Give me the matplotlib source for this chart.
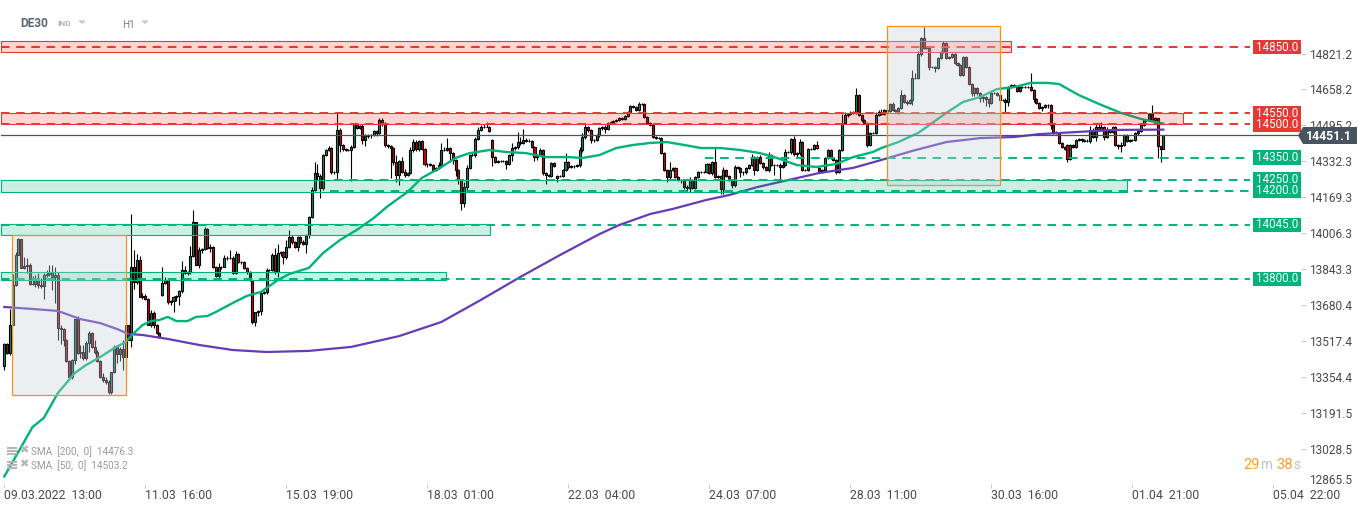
import numpy as np
import matplotlib
matplotlib.use("Agg")
import matplotlib.pyplot as plt
from matplotlib.patches import Polygon, Rectangle

# DE30 H1, prices
closes = [
    13505,13465,13591,13773,13908,13981,13850,13859,13863,13777,
    13777,13795,13773,13768,13818,13822,13831,13809,13818,13578,
    13573,13523,13428,13356,13433,13618,13465,13469,13442,13510,
    13555,13492,13469,13428,13356,13342,13333,13288,13378,13492,
    13460,13483,13446,13591,13523,13854,13786,13886,13718,13723,
    13709,13591,13646,13591,13555,13537,13782,13795,13695,13700,
    13718,13723,13745,13840,13827,13831,13904,14058,13863,13931,
    13936,14026,13940,13945,13854,13813,13854,13854,13895,13895,
    13895,13827,13913,13877,13877,13850,13831,13795,13605,13650,
    13655,13736,13741,13840,13840,13908,13831,13917,13922,13899,
    13945,13990,13967,13945,13990,13967,13958,14000,14081,14203,
    14280,14266,14212,14361,14384,14393,14284,14284,14475,14407,
    14389,14384,14384,14398,14502,14484,14493,14429,14447,14452,
    14452,14470,14461,14520,14502,14407,14402,14393,14330,14271,
    14334,14284,14271,14280,14384,14420,14389,14425,14389,14321,
    14321,14316,14293,14303,14316,14384,14384,14393,14370,14339,
    14293,14248,14144,14216,14303,14361,14361,14434,14475,14488,
    14488,14488,14470,14352,14330,14334,14334,14334,14321,14361,
    14393,14398,14420,14416,14429,14425,14425,14398,14352,14361,
    14384,14280,14271,14266,14325,14312,14266,14266,14293,14330,
    14307,14312,14312,14316,14384,14443,14488,14475,14429,14429,
    14452,14484,14488,14479,14506,14511,14515,14520,14529,14525,
    14538,14556,14583,14579,14565,14592,14592,14534,14506,14497,
    14443,14438,14438,14370,14293,14262,14293,14303,14262,14248,
    14248,14216,14212,14248,14212,14262,14284,14284,14284,14321,
    14280,14330,14262,14266,14207,14293,14266,14248,14225,14307,
    14303,14284,14284,14303,14316,14352,14293,14352,14325,14307,
    14293,14361,14316,14316,14316,14307,14316,14375,14375,14434,
    14366,14370,14420,14293,14293,14389,14389,14407,14393,14284,
    14293,14348,14384,14348,14339,14284,14384,14506,14543,14547,
    14552,14552,14633,14543,14520,14506,14407,14461,14461,14543,
    14556,14547,14565,14561,14592,14565,14561,14574,14633,14601,
    14597,14611,14710,14710,14819,14891,14846,14846,14760,14760,
    14756,14801,14828,14869,14801,14805,14819,14778,14769,14724,
    14805,14760,14683,14642,14665,14642,14620,14624,14615,14597,
    14642,14642,14633,14611,14611,14602,14669,14678,14674,14651,
    14669,14669,14669,14669,14656,14615,14597,14574,14579,14588,
    14588,14497,14466,14461,14416,14398,14389,14343,14407,14398,
    14429,14434,14429,14425,14425,14475,14443,14488,14475,14488,
    14443,14475,14466,14488,14407,14402,14407,14452,14425,14429,
    14429,14461,14470,14497,14520,14520,14547,14520,14529,14402,
    14389,14451.1,
]
# wick lengths above / below the body, in points
wick_up = [
    5,5,75,50,15,5,0,40,30,10,
    35,25,30,30,10,20,30,30,35,15,
    15,5,5,5,5,0,15,30,30,10,
    10,5,30,10,5,20,15,10,0,10,
    10,10,40,60,0,240,75,25,20,15,
    10,5,15,10,5,5,70,15,5,5,
    5,5,5,40,20,5,45,55,0,15,
    5,10,5,15,5,5,20,5,15,10,
    35,10,15,5,5,5,5,5,0,0,
    5,10,5,10,5,10,30,40,5,5,
    30,30,10,5,5,5,10,5,5,15,
    50,40,10,5,5,10,5,5,75,10,
    5,5,5,10,5,5,5,10,10,5,
    5,5,5,10,10,10,5,5,5,30,
    5,20,15,5,15,15,10,5,5,5,
    5,5,5,5,15,30,15,45,5,5,
    5,5,0,25,15,5,10,10,15,10,
    15,25,5,5,5,5,5,5,5,5,
    25,5,45,25,50,10,10,5,5,5,
    10,5,5,5,5,5,5,5,5,40,
    5,5,5,5,15,20,15,5,5,5,
    5,5,5,10,5,5,5,5,5,5,
    5,5,5,5,5,10,5,5,5,5,
    5,5,5,5,5,5,35,5,5,5,
    5,5,10,15,5,5,5,5,5,5,
    5,5,65,5,5,15,5,5,5,10,
    5,5,5,5,5,15,5,5,10,5,
    5,15,5,5,5,10,20,15,5,5,
    15,5,15,5,5,5,5,5,20,5,
    5,5,5,5,5,5,5,40,15,5,
    10,10,30,5,5,5,5,5,5,15,
    10,15,5,5,5,10,5,5,25,5,
    10,5,35,25,15,5,50,5,5,5,
    5,5,5,10,5,5,5,5,5,5,
    5,5,5,5,5,5,5,5,5,5,
    5,5,5,5,5,10,5,5,5,5,
    5,5,5,5,65,5,5,5,5,5,
    5,5,5,5,5,5,5,5,5,5,
    5,5,5,5,10,20,10,15,15,25,
    5,15,5,5,5,5,15,5,5,5,
    5,5,5,10,5,5,5,40,5,0,
    0,0,
]
wick_dn = [
    20,5,10,0,5,0,0,5,30,5,
    5,15,15,10,60,10,10,60,120,55,
    70,25,5,5,10,20,5,25,10,10,
    40,5,10,5,5,10,10,10,10,5,
    40,30,60,75,0,30,30,10,0,10,
    5,0,10,15,5,5,5,5,10,15,
    50,20,40,10,5,10,10,5,0,15,
    15,5,5,20,5,5,20,10,0,10,
    5,5,5,5,10,5,10,5,10,20,
    20,20,5,10,5,5,10,20,15,30,
    10,5,10,5,20,10,5,40,15,5,
    5,20,45,10,5,5,10,10,35,30,
    10,5,5,140,5,5,5,20,25,10,
    15,5,15,5,10,10,10,135,15,30,
    45,5,10,5,5,10,10,10,5,10,
    15,5,10,5,5,5,5,5,40,20,
    25,20,30,20,20,5,5,10,5,5,
    5,0,5,40,5,5,5,5,25,5,
    25,10,10,10,5,5,5,5,20,15,
    5,10,40,5,5,5,20,5,5,5,
    10,5,10,5,10,10,10,10,15,10,
    5,10,10,20,5,5,5,5,5,5,
    5,5,5,5,5,5,5,5,5,5,
    5,5,5,5,5,25,10,5,5,5,
    15,10,15,20,5,5,5,5,5,5,
    5,10,5,5,20,20,5,5,15,10,
    5,20,15,10,5,5,20,5,5,10,
    5,10,5,45,5,60,5,5,5,10,
    10,15,10,5,5,5,5,5,5,5,
    5,5,5,5,5,10,5,5,5,10,
    5,5,5,5,10,5,10,5,5,5,
    5,5,5,15,5,5,5,15,5,5,
    10,5,25,5,5,10,5,5,15,5,
    20,5,5,5,5,5,5,5,5,5,
    5,5,5,15,15,10,20,20,30,20,
    5,5,5,5,5,45,20,5,5,5,
    5,5,5,5,5,15,5,5,15,5,
    15,20,10,5,5,5,5,15,5,5,
    5,5,10,5,5,10,5,20,5,5,
    15,5,5,5,5,15,25,5,5,5,
    5,5,10,5,5,5,5,5,5,55,
    60,0,
]
first_open = 13406
gap_opens = {56: 13727, 173: 14429, 196: 14257, 289: 14302, 377: 14407}

sma50_bars = [0,6,10,14,19,25,29,34,39,43,46,49,52,55,58,61,65,68,72,75,81,86,91,97,101,108,113,
              119,125,131,136,143,148,155,160,165,172,178,185,192,200,205,211,217,223,229,235,241,
              247,254,261,268,274,281,288,295,301,308,311,317,324,328,334,340,346,352,358,364,370,
              374,381,389,396,403,411]
sma50_vals = [12905,13039,13129,13170,13283,13374,13410,13446,13487,13514,13555,13591,13609,13614,
              13628,13609,13609,13628,13632,13650,13691,13723,13741,13795,13822,13850,13917,
              13976,14022,14076,14130,14194,14257,14307,14348,14370,14384,14375,14370,14352,14352,
              14348,14361,14393,14407,14416,14420,14407,14393,14393,14384,14370,14348,14316,14307,
              14321,14352,14375,14393,14420,14461,14497,14552,14602,14624,14660,14669,14688,14688,
              14683,14633,14588,14552,14525,14503.2]
sma200_bars = [0,10,19,27,34,40,44,49,58,69,81,93,108,123,140,155,169,183,197,211,218,229,237,249,
               257,267,278,289,301,311,322,334,346,358,367,381,393,411]
sma200_vals = [13673,13664,13655,13618,13600,13573,13551,13546,13528,13501,13478,13469,13474,13492,
               13541,13605,13705,13809,13908,14003,14044,14094,14117,14158,14180,14216,14248,14280,
               14303,14339,14380,14420,14438,14443,14456,14466,14475,14476.3]

# support / resistance levels and zones
red_levels = [14850.0, 14550.0, 14500.0]
green_levels = [14350.0, 14250.0, 14200.0, 14045.0, 13800.0]
level_start = {14850.0: -1.2, 14550.0: -1.2, 14500.0: -1.2, 14350.0: 248.4,
               14250.0: 117, 14200.0: 115.5, 14045.0: -1.2, 13800.0: -1.2}
red_zones = [(14826, 14880, 357), (14504, 14550, 418)]
green_zones = [(14196, 14250, 398), (13999, 14049, 172.2), (13795, 13831, 156.6)]
boxes = [(2.9, 43, 13272, 14000), (313, 353, 14226, 14946)]
last_price = 14451.1

ytick_vals = [14821.2,14658.2,14495.2,14332.3,14169.3,14006.3,13843.3,13680.4,13517.4,13354.4,13191.5,13028.5]
xtick_bars = [0,50,100,150,200,250,300,350,400,450]
xtick_labels = ["09.03.2022  13:00","11.03  16:00","15.03  19:00","18.03  01:00","22.03  04:00",
                "24.03  07:00","28.03  11:00","30.03  16:00","01.04  21:00","05.04  22:00"]

RED = "#e53935"
GREEN = "#00b37a"
PURPLE = "#673ab7"
GREY_TXT = "#4a4a4a"

plt.rcParams["font.family"] = ["Roboto", "DejaVu Sans"]
W, H = 1368, 509

def fx(x):
    return x / W

def fy(y):
    return 1 - y / H

fig = plt.figure(figsize=(W / 100, H / 100), dpi=100)
ax = fig.add_axes([0, fy(484), 1301 / W, 484 / H])
ax.set_xlim(-1.525, 459.8)
ax.set_ylim(12871, 15063.6)
for s in ax.spines.values():
    s.set_visible(False)

# candles
closes = np.array(closes, dtype=float)
opens = np.r_[first_open, closes[:-1]]
for k, v in gap_opens.items():
    opens[k] = v
up = closes >= opens
tops = np.maximum(opens, closes)
bots = np.minimum(opens, closes)
xs = np.arange(len(closes))
ax.vlines(xs, bots - np.array(wick_dn), tops + np.array(wick_up), color="black", lw=0.8, zorder=2)
ax.bar(xs, tops - bots, width=0.72, bottom=bots, color=np.where(up, "#008f60", "#dd0000"),
       edgecolor="black", linewidth=0.8, zorder=2.1)

# averages
ax.plot(sma200_bars, sma200_vals, color=PURPLE, lw=1.6, zorder=3)
ax.plot(sma50_bars, sma50_vals, color=GREEN, lw=1.7, zorder=3.1)

# dashed levels
for lev in red_levels + green_levels:
    c = RED if lev in red_levels else GREEN
    ax.hlines(lev, level_start[lev], 441.8, color=c, lw=1.4, linestyles=(0, (4.4, 3.4)), zorder=3.5)

# zones
for lo, hi, end in red_zones:
    ax.add_patch(Rectangle((-1.2, lo), end + 1.2, hi - lo, facecolor="#ff1a1a", alpha=0.18, zorder=4))
    ax.add_patch(Rectangle((-1.2, lo), end + 1.2, hi - lo, fill=False, edgecolor=RED, lw=0.8, zorder=4))
for lo, hi, end in green_zones:
    ax.add_patch(Rectangle((-1.2, lo), end + 1.2, hi - lo, facecolor=GREEN, alpha=0.2, zorder=4))
    ax.add_patch(Rectangle((-1.2, lo), end + 1.2, hi - lo, fill=False, edgecolor=GREEN, lw=0.8, zorder=4))

# shaded boxes
for x0, x1, lo, hi in boxes:
    ax.add_patch(Rectangle((x0, lo), x1 - x0, hi - lo, facecolor="#c8d2dc", alpha=0.35, zorder=5))
    ax.add_patch(Rectangle((x0, lo), x1 - x0, hi - lo, fill=False, edgecolor="#f7931a", lw=0.9, zorder=5))

# last price
ax.plot([-1, 460], [last_price, last_price], color="#47545f", lw=0.9, zorder=3.6, clip_on=False)
tag_y0, tag_y1 = 127, 144
fig.patches.append(Polygon([(fx(1298), fy(135.5)), (fx(1303), fy(tag_y0)), (fx(1357), fy(tag_y0)),
                            (fx(1357), fy(tag_y1)), (fx(1303), fy(tag_y1))],
                           closed=True, facecolor="#47545f", transform=fig.transFigure, zorder=8))
fig.text(fx(1329), fy(136), "14451.1", color="white", fontsize=8.8, fontweight="bold",
         ha="center", va="center", zorder=9)

# level tags, boxes first so the close pairs keep both numbers readable
for lev in red_levels + green_levels:
    c = RED if lev in red_levels else GREEN
    ax.add_patch(Rectangle((442.8, lev - 33), 17, 66, facecolor=c, edgecolor="none", zorder=6, clip_on=False))
    ax.text(451.3, lev, "%.1f" % lev, color="white", fontsize=8.4, ha="center", va="center", zorder=7,
            clip_on=False)

# axes ticks
ax.yaxis.tick_right()
ax.set_yticks(ytick_vals)
ax.set_yticklabels(["%.1f" % v for v in ytick_vals])
ax.set_xticks(xtick_bars)
ax.set_xticklabels(xtick_labels, ha="left")
ax.tick_params(axis="y", length=3.6, width=0.8, color="#cccccc", labelcolor=GREY_TXT, labelsize=8.6, pad=2)
ax.tick_params(axis="x", length=3, width=0.8, color="#cccccc", labelcolor=GREY_TXT, labelsize=8.8, pad=0.5)
fig.text(fx(1309), fy(481), "12865.5", color=GREY_TXT, fontsize=8.6, ha="left", va="center")

# header
fig.text(fx(20), fy(23.5), "DE30", color="#5b6770", fontsize=8.6, fontweight="bold", va="center")
fig.text(fx(57), fy(24), "IND", color="#a9b5bf", fontsize=6, fontweight="bold", va="center")
fig.text(fx(122), fy(24.5), "H1", color="#77838c", fontsize=7.2, va="center")
for tx in (82, 145):
    fig.patches.append(Polygon([(fx(tx - 4), fy(20.5)), (fx(tx + 4), fy(20.5)), (fx(tx), fy(24))],
                               closed=True, facecolor="#c3c8cc", transform=fig.transFigure))

# indicator legend
for ly, name in ((451.5, "SMA  [200,  0]  14476.3"), (465.5, "SMA  [50,  0]  14503.2")):
    fig.text(fx(31), fy(ly), name, color="#9a9a9a", fontsize=7.2, va="center")
    fig.text(fx(24), fy(ly - 1.5), "\u2716", color="#b5b5b5", fontsize=8, ha="center", va="center",
             family="DejaVu Sans")
    for dy in (-4, -1, 2):
        fig.patches.append(Rectangle((fx(6.5), fy(ly + dy + 1.5)), 10 / W, 1.7 / H, facecolor="#b5b5b5",
                                     transform=fig.transFigure))

# countdown
for tx, s, c, fs in ((1243, "29", "#ff9d2a", 10.6), (1260, "m", "#bcc3c9", 9.8),
                     (1276, "38", "#ff9d2a", 10.6), (1293, "s", "#bcc3c9", 9.8)):
    fig.text(fx(tx), fy(465), s, color=c, fontsize=fs, va="center")

fig.savefig("out.png", dpi=100)
